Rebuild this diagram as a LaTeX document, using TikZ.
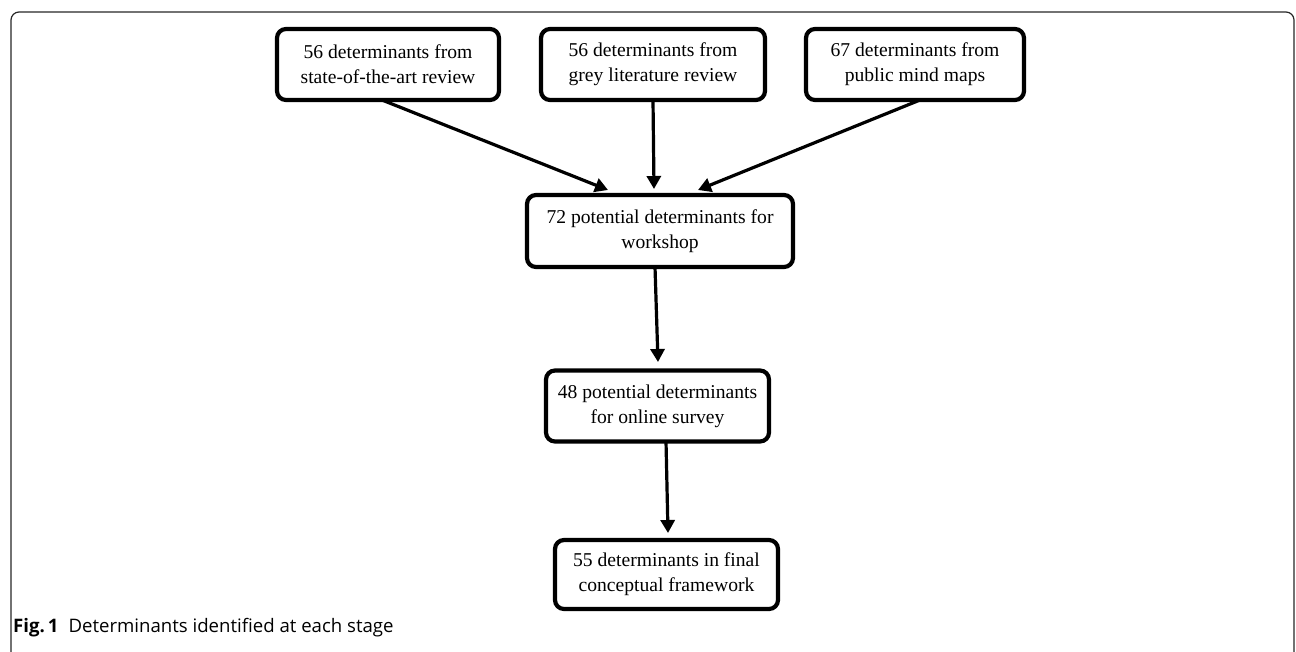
\documentclass[tikz,border=0pt]{standalone}
\usepackage{fontspec}
\setmainfont{Liberation Serif}
\newfontfamily\capfont{Open Sans}
\usetikzlibrary{arrows.meta}
\begin{document}
\begin{tikzpicture}[x=1pt,y=-1pt,
  box/.style={draw, line width=4.2pt, rounded corners=9pt, align=center, font=\fontsize{19.6}{25}\selectfont, inner sep=0pt},
  arr/.style={line width=3.2pt, -{Triangle[length=13pt,width=14pt]}}]
\useasboundingbox (0,0) rectangle (1296,651);
\draw[line width=1.2pt, draw=black!85, rounded corners=8pt] (11,675) -- (11,12) -- (1294,12) -- (1294,675);
\node[box, minimum width=222pt, minimum height=71pt] (b1) at (388,64.5) {56 determinants from\\state-of-the-art review};
\node[box, minimum width=224pt, minimum height=71pt] (b2) at (653,64.5) {56 determinants from\\grey literature review};
\node[box, minimum width=218pt, minimum height=71pt] (b3) at (915,64.5) {67 determinants from\\public mind maps};
\node[box, minimum width=266pt, minimum height=72pt] (b4) at (660,231) {72 potential determinants for\\workshop};
\node[box, minimum width=223pt, minimum height=71pt] (b5) at (657.5,406) {48 potential determinants\\for online survey};
\node[box, minimum width=223pt, minimum height=69pt] (b6) at (666.5,574.5) {55 determinants in final\\conceptual framework};
\coordinate (t1) at (608,190);
\coordinate (t2) at (654,189);
\coordinate (t3) at (698,190);
\draw[arr] (382,100) -- (t1);
\draw[arr] (653,100) -- (t2);
\draw[arr] (920,100) -- (t3);
\draw[arr] (655,267) -- (658,362);
\draw[arr] (666,441) -- (668,533);
\node[anchor=west, font=\capfont\fontsize{18.6}{20}\selectfont, inner sep=0pt] (cap) at (13,628) {\textbf{Fig.\,1}\hspace{10pt}Determinants identified at each stage};
\end{tikzpicture}
\end{document}
